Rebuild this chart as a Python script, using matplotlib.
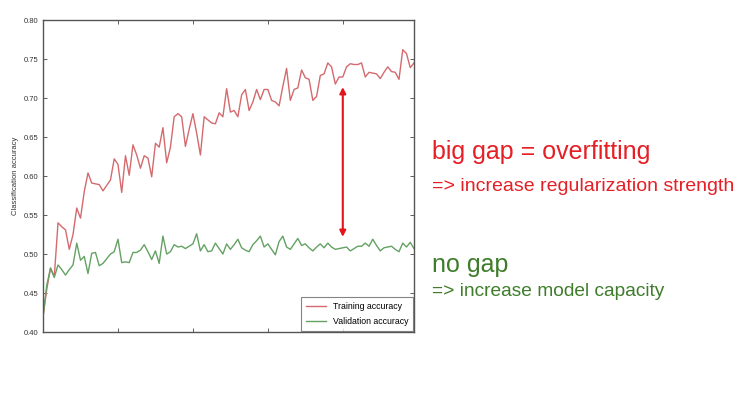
import numpy as np
import matplotlib.pyplot as plt

# Accuracy per epoch
train_acc = [0.420, 0.455, 0.482, 0.471, 0.540, 0.535, 0.531, 0.506, 0.525, 0.559,
             0.546, 0.580, 0.604, 0.591, 0.590, 0.589, 0.581, 0.588, 0.595, 0.622,
             0.615, 0.579, 0.626, 0.601, 0.640, 0.627, 0.610, 0.626, 0.623, 0.599,
             0.642, 0.637, 0.662, 0.617, 0.637, 0.676, 0.680, 0.676, 0.638, 0.660,
             0.680, 0.655, 0.627, 0.676, 0.672, 0.668, 0.667, 0.681, 0.676, 0.712,
             0.682, 0.684, 0.676, 0.704, 0.711, 0.684, 0.695, 0.711, 0.698, 0.711,
             0.711, 0.697, 0.695, 0.690, 0.715, 0.738, 0.697, 0.711, 0.713, 0.736,
             0.726, 0.724, 0.697, 0.702, 0.729, 0.731, 0.745, 0.740, 0.718, 0.727,
             0.727, 0.740, 0.744, 0.743, 0.743, 0.745, 0.727, 0.733, 0.732, 0.731,
             0.725, 0.733, 0.740, 0.734, 0.733, 0.724, 0.762, 0.757, 0.739, 0.745]

val_acc = [0.420, 0.460, 0.482, 0.470, 0.486, 0.480, 0.473, 0.480, 0.486, 0.514,
           0.492, 0.497, 0.475, 0.501, 0.502, 0.485, 0.488, 0.494, 0.500, 0.503,
           0.519, 0.489, 0.490, 0.489, 0.502, 0.502, 0.505, 0.512, 0.503, 0.493,
           0.504, 0.488, 0.523, 0.500, 0.503, 0.512, 0.509, 0.510, 0.507, 0.510,
           0.513, 0.526, 0.504, 0.512, 0.503, 0.504, 0.514, 0.507, 0.500, 0.513,
           0.506, 0.512, 0.519, 0.508, 0.505, 0.503, 0.512, 0.517, 0.523, 0.509,
           0.513, 0.506, 0.499, 0.516, 0.523, 0.509, 0.506, 0.513, 0.520, 0.511,
           0.513, 0.508, 0.504, 0.509, 0.513, 0.508, 0.514, 0.509, 0.506, 0.507,
           0.508, 0.509, 0.504, 0.507, 0.510, 0.510, 0.514, 0.510, 0.519, 0.511,
           0.504, 0.508, 0.509, 0.510, 0.506, 0.503, 0.514, 0.509, 0.515, 0.507]

epochs = np.arange(len(train_acc))

# gap arrow: epoch and the two accuracy levels it spans
gap_epoch = 80
gap_top, gap_bottom = 0.714, 0.522

plt.rcParams['font.family'] = ['Liberation Sans', 'DejaVu Sans']

fig = plt.figure(figsize=(7.47, 4.01), dpi=100)
ax = fig.add_axes([0.0576, 0.172, 0.4966, 0.778])

ax.plot(epochs, train_acc, color='#d46a6e', lw=1.0, label='Training accuracy')
ax.plot(epochs, val_acc, color='#63a263', lw=1.0, label='Validation accuracy')

ax.set_xlim(0, 99)
ax.set_ylim(0.40, 0.80)
ax.set_xticks([0, 20, 40, 60, 80])
ax.set_xticklabels([])
ax.set_yticks(np.arange(0.40, 0.801, 0.05))
ax.set_yticklabels([f'{v:.2f}' for v in np.arange(0.40, 0.801, 0.05)])
ax.tick_params(direction='in', top=True, right=True, labelsize=5.5,
               length=3, width=0.6, colors='#444444', labelcolor='#333333')
for s in ax.spines.values():
    s.set_color('#555555')
    s.set_linewidth(1.0)
ax.set_ylabel('Classification accuracy', fontsize=5.5, color='#333333', labelpad=3)

leg = ax.legend(loc='lower right', fontsize=6.3, borderaxespad=0.1,
                handlelength=2.3, fancybox=False, labelspacing=0.7, borderpad=0.55)
leg.get_frame().set_edgecolor('#666666')
leg.get_frame().set_linewidth(0.8)

ax.annotate('', xy=(gap_epoch, gap_top), xytext=(gap_epoch, gap_bottom),
            arrowprops=dict(arrowstyle='<|-|>', color='#e3141c', lw=1.5,
                            mutation_scale=9, shrinkA=0, shrinkB=0))

red = '#e51f26'
green = '#3f7d2c'
fig.text(0.578, 0.621, 'big gap = overfitting', color=red, fontsize=18, va='center')
fig.text(0.578, 0.536, '=> increase regularization strength', color=red, fontsize=14, va='center')
fig.text(0.578, 0.339, 'no gap', color=green, fontsize=18, va='center')
fig.text(0.578, 0.272, '=> increase model capacity', color=green, fontsize=13.8, va='center')

fig.savefig('out.png', dpi=100)
